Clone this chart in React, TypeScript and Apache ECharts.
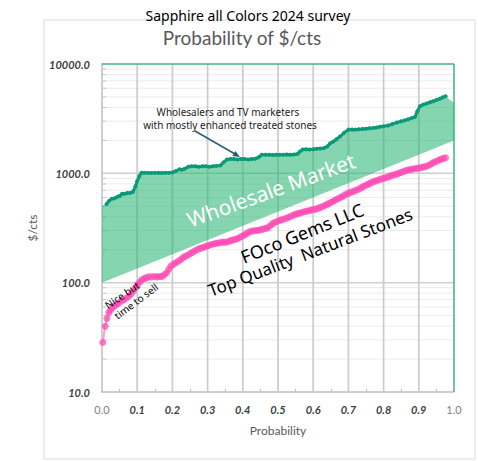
import React, { useEffect, useRef } from "react";
import * as echarts from "echarts";

// ---- data ----
const X_TICK_INTERVAL = 0.1;
const Y_MIN = 10;
const Y_MAX = 10000;

// Wholesalers & TV marketers (probability, $/ct)
const wholesaleData: [number, number][] = [
  [0.013, 525], [0.02, 560], [0.028, 585], [0.035, 590], [0.044, 610], [0.05, 620],
  [0.057, 650], [0.065, 650], [0.072, 660], [0.08, 660], [0.088, 680], [0.095, 760],
  [0.1, 850], [0.106, 940], [0.112, 1010], [0.12, 1010], [0.13, 1010], [0.14, 1005],
  [0.15, 1010], [0.16, 1010], [0.17, 1005], [0.18, 1010], [0.19, 1010], [0.2, 1020],
  [0.21, 1050], [0.22, 1090], [0.227, 1080], [0.235, 1100], [0.245, 1150], [0.254, 1160],
  [0.265, 1160], [0.275, 1150], [0.285, 1160], [0.295, 1160], [0.305, 1150], [0.315, 1160],
  [0.325, 1170], [0.336, 1180], [0.345, 1260], [0.355, 1340], [0.365, 1350], [0.375, 1350],
  [0.385, 1340], [0.395, 1350], [0.405, 1350], [0.415, 1340], [0.425, 1350], [0.435, 1360],
  [0.445, 1400], [0.454, 1480], [0.465, 1480], [0.475, 1480], [0.485, 1470], [0.495, 1480],
  [0.505, 1480], [0.515, 1480], [0.525, 1490], [0.535, 1480], [0.545, 1490], [0.555, 1500],
  [0.562, 1580], [0.57, 1650], [0.58, 1660], [0.59, 1650], [0.6, 1660], [0.61, 1680],
  [0.62, 1690], [0.63, 1700], [0.64, 1760], [0.648, 1880], [0.657, 1950], [0.666, 2050],
  [0.676, 2170], [0.688, 2350], [0.7, 2510], [0.71, 2520], [0.72, 2510], [0.73, 2530],
  [0.74, 2540], [0.75, 2560], [0.76, 2580], [0.771, 2600], [0.78, 2620], [0.79, 2670],
  [0.8, 2700], [0.813, 2740], [0.825, 2820], [0.838, 2920], [0.85, 2990], [0.86, 3050],
  [0.87, 3120], [0.88, 3200], [0.889, 3280], [0.896, 3700], [0.903, 4100], [0.912, 4250],
  [0.922, 4350], [0.932, 4470], [0.941, 4560], [0.951, 4700], [0.96, 4820], [0.968, 4950],
  [0.976, 5080],
];

// FOco Gems LLC (probability, $/ct)
const focoData: [number, number][] = [
  [0.002, 28.4], [0.009, 40], [0.014, 47], [0.019, 53], [0.024, 56], [0.028, 59],
  [0.035, 61], [0.041, 63], [0.047, 65], [0.055, 68], [0.062, 70], [0.069, 72],
  [0.076, 75], [0.083, 79], [0.089, 84], [0.095, 90], [0.101, 96], [0.107, 101],
  [0.113, 106], [0.12, 109], [0.126, 111], [0.132, 113], [0.14, 113], [0.148, 114],
  [0.156, 113], [0.163, 114], [0.17, 114], [0.177, 118], [0.184, 123], [0.19, 133],
  [0.196, 142], [0.203, 147], [0.21, 152], [0.217, 157], [0.224, 163], [0.23, 169],
  [0.236, 174], [0.243, 178], [0.25, 184], [0.256, 189], [0.263, 195], [0.27, 200],
  [0.277, 205], [0.283, 208], [0.29, 212], [0.297, 216], [0.303, 219], [0.31, 223],
  [0.317, 226], [0.324, 229], [0.33, 231], [0.337, 233], [0.344, 235], [0.35, 234],
  [0.357, 237], [0.364, 241], [0.37, 245], [0.377, 248], [0.384, 252], [0.39, 258],
  [0.397, 265], [0.404, 272], [0.41, 280], [0.417, 290], [0.424, 295], [0.43, 298],
  [0.437, 300], [0.444, 302], [0.45, 305], [0.457, 309], [0.464, 313], [0.47, 317],
  [0.477, 330], [0.484, 345], [0.49, 355], [0.497, 363], [0.504, 370], [0.51, 376],
  [0.517, 382], [0.524, 389], [0.53, 396], [0.537, 405], [0.544, 415], [0.55, 423],
  [0.557, 430], [0.563, 434], [0.57, 440], [0.577, 447], [0.583, 452], [0.59, 458],
  [0.597, 464], [0.603, 468], [0.61, 475], [0.617, 483], [0.623, 492], [0.63, 502],
  [0.637, 515], [0.643, 528], [0.65, 540], [0.657, 555], [0.663, 570], [0.67, 585],
  [0.676, 598], [0.683, 615], [0.69, 635], [0.697, 650], [0.703, 663], [0.71, 677],
  [0.717, 690], [0.723, 705], [0.73, 720], [0.737, 740], [0.743, 760], [0.75, 780],
  [0.757, 800], [0.763, 818], [0.77, 835], [0.777, 850], [0.783, 865], [0.79, 880],
  [0.797, 895], [0.803, 905], [0.81, 920], [0.817, 938], [0.823, 955], [0.83, 970],
  [0.837, 985], [0.843, 1000], [0.85, 1020], [0.857, 1040], [0.863, 1060], [0.87, 1075],
  [0.877, 1085], [0.883, 1095], [0.89, 1105], [0.897, 1115], [0.903, 1125], [0.91, 1140],
  [0.917, 1150], [0.923, 1165], [0.93, 1190], [0.937, 1230], [0.943, 1265], [0.95, 1290],
  [0.957, 1320], [0.963, 1345], [0.97, 1370], [0.976, 1390],
];

// Wholesale market band: upper edge ends, lower straight edge
const bandUpperStart: [number, number] = [0, 509];
const bandUpperEnd: [number, number] = [1, 4400];
const bandLower: [number, number][] = [[1, 2000], [0, 100]];

// major grid values
const xMajorValues: number[] = [0.1, 0.2, 0.3, 0.4, 0.5, 0.6, 0.7, 0.8, 0.9];
const yMajorValues: number[] = [100, 1000];
// minor log grid lines (2..9 per decade)
const minorValues: number[] = [
  20, 30, 40, 50, 60, 70, 80, 90,
  200, 300, 400, 500, 600, 700, 800, 900,
  2000, 3000, 4000, 5000, 6000, 7000, 8000, 9000,
];

const FONT = "'Noto Sans', 'Open Sans', sans-serif";
const AXFONT = "Lato, 'Noto Sans', sans-serif";

export default function App() {
  const ref = useRef<HTMLDivElement>(null);

  useEffect(() => {
    if (!ref.current) return;
    const chart = echarts.init(ref.current, undefined, { renderer: "svg" });

    const bandPts: [number, number][] = [bandUpperStart, ...wholesaleData, bandUpperEnd, ...bandLower];

    const arrowTip = [240, 157];
    const gridItems: any[] = [
      ...minorValues.map((v) => ["ymin", v]),
      ...yMajorValues.map((v) => ["ymaj", v]),
      ...xMajorValues.map((v) => ["xmaj", v]),
      ["top", 0],
      ["right", 0],
    ];

    const option: any = {
      animation: false,
      backgroundColor: "#ffffff",
      grid: { left: 102, right: 24, top: 64, bottom: 69 },
      xAxis: {
        type: "value",
        min: 0,
        max: 1,
        interval: X_TICK_INTERVAL,
        name: "Probability",
        nameLocation: "middle",
        nameGap: 32,
        nameTextStyle: { color: "#595959", fontSize: 12, fontFamily: AXFONT },
        axisLine: { show: true, lineStyle: { color: "#bfbfbf", width: 1.5 } },
        axisTick: { show: true, inside: true, length: 0 },
        minorTick: { show: true, splitNumber: 2, length: 3, lineStyle: { color: "#bfbfbf" } },
        splitLine: { show: false },
        axisLabel: {
          margin: 12,
          fontSize: 11,
          fontFamily: AXFONT,
          color: "#404040",
          fontWeight: "bold",
          fontStyle: "italic",
          formatter: (v: number) => {
            const s = v.toFixed(1);
            return v < 0.05 || v > 0.95 ? "{e|" + s + "}" : s;
          },
          rich: {
            e: { fontSize: 11, fontFamily: AXFONT, color: "#7f7f7f", fontWeight: "normal", fontStyle: "normal" },
          },
        },
      },
      yAxis: {
        type: "log",
        logBase: 10,
        min: Y_MIN,
        max: Y_MAX,
        name: "$/cts",
        nameLocation: "middle",
        nameGap: 62,
        nameTextStyle: { color: "#595959", fontSize: 12, fontFamily: AXFONT },
        axisLine: { show: true, lineStyle: { color: "#bfbfbf", width: 1.5 } },
        axisTick: { show: false },
        splitLine: { show: false },
        axisLabel: {
          margin: 12,
          fontSize: 11,
          fontFamily: AXFONT,
          color: "#404040",
          fontWeight: "bold",
          fontStyle: "italic",
          formatter: (v: number) => v.toFixed(1),
        },
      },
      series: [
        {
          type: "custom",
          name: "grid lines",
          coordinateSystem: "cartesian2d",
          z: 1,
          silent: true,
          clip: false,
          data: gridItems.map((_, i) => [0, 100, i]),
          renderItem: (params: any, api: any) => {
            const [kind, v] = gridItems[params.dataIndex];
            if (kind === "ymin" || kind === "ymaj") {
              const a = api.coord([0, v]);
              const b = api.coord([1, v]);
              const major = kind === "ymaj";
              return {
                type: "group",
                children: [
                  { type: "line", shape: { x1: a[0], y1: a[1], x2: b[0], y2: b[1] }, style: { stroke: major ? "#cfcfcf" : "#ebebeb", lineWidth: major ? 1.5 : 1 } },
                  { type: "line", shape: { x1: a[0], y1: a[1], x2: a[0] + (major ? 0 : 4), y2: a[1] }, style: { stroke: "#c4c4c4", lineWidth: 1 } },
                ],
              };
            }
            if (kind === "xmaj") {
              const a = api.coord([v, Y_MIN]);
              const b = api.coord([v, Y_MAX]);
              return { type: "line", shape: { x1: a[0], y1: a[1], x2: b[0], y2: b[1] }, style: { stroke: "#cccccc", lineWidth: 1.75 } };
            }
            if (kind === "top") {
              const a = api.coord([0, Y_MAX]);
              const b = api.coord([1, Y_MAX]);
              return { type: "line", shape: { x1: a[0], y1: a[1], x2: b[0], y2: b[1] }, style: { stroke: "#3DB67E", lineWidth: 1.5 } };
            }
            const a = api.coord([1, Y_MIN]);
            const b = api.coord([1, Y_MAX]);
            return { type: "line", shape: { x1: a[0], y1: a[1], x2: b[0], y2: b[1] }, style: { stroke: "#3DB67E", lineWidth: 1.5 } };
          },
        },
        {
          type: "custom",
          name: "Wholesale Market",
          coordinateSystem: "cartesian2d",
          z: 2,
          silent: true,
          data: [[0, 100]],
          renderItem: (params: any, api: any) => {
            const pts = bandPts.map((p) => api.coord(p));
            return {
              type: "polygon",
              shape: { points: pts },
              style: { fill: "rgba(33,180,111,0.55)", stroke: "none" },
            };
          },
        },
        {
          type: "line",
          name: "Wholesalers and TV marketers",
          z: 3,
          data: wholesaleData,
          symbol: "circle",
          symbolSize: 4,
          itemStyle: { color: "#0B9A78" },
          lineStyle: { color: "#0B9A78", width: 3 },
        },
        {
          type: "line",
          name: "FOco Gems LLC",
          z: 4,
          data: focoData,
          symbol: "circle",
          symbolSize: 7,
          itemStyle: { color: "#FF4DB5", opacity: 0.75 },
          lineStyle: { color: "#FF9AD2", width: 2 },
        },
      ],
      graphic: [
        { type: "rect", shape: { x: 44, y: 20, width: 431, height: 439 }, style: { fill: "none", stroke: "#d9d9d9", lineWidth: 1 }, z: -1 },
        { type: "text", x: 248, y: 15, style: { text: "Sapphire all Colors 2024 survey", fill: "#000", font: `14px ${FONT}`, textAlign: "center", textVerticalAlign: "middle" }, z: 10 },
        { type: "text", x: 242, y: 37, style: { text: "Probability of $/cts", fill: "#595959", font: `19px ${AXFONT}`, textAlign: "center", textVerticalAlign: "middle" }, z: 10 },
        { type: "text", x: 228, y: 112, style: { text: "Wholesalers and TV marketers", fill: "#222", font: `10px ${FONT}`, textAlign: "center", textVerticalAlign: "middle" }, z: 10 },
        { type: "text", x: 230, y: 125, style: { text: "with mostly enhanced treated stones", fill: "#222", font: `10px ${FONT}`, textAlign: "center", textVerticalAlign: "middle" }, z: 10 },
        { type: "line", shape: { x1: 195, y1: 131, x2: 235, y2: 154 }, style: { stroke: "#245F78", lineWidth: 1.5 }, z: 10 },
        { type: "polygon", shape: { points: [arrowTip, [232.4, 156.1], [235.4, 150.9]] }, style: { fill: "#245F78" }, z: 10 },
        { type: "text", x: 271, y: 190, rotation: (20 * Math.PI) / 180, style: { text: "Wholesale Market", fill: "#ffffff", font: `21px ${FONT}`, textAlign: "center", textVerticalAlign: "middle" }, z: 10 },
        { type: "text", x: 302, y: 233, rotation: (22 * Math.PI) / 180, style: { text: "FOco Gems LLC", fill: "#000", font: `18px ${FONT}`, textAlign: "center", textVerticalAlign: "middle" }, z: 10 },
        { type: "text", x: 310, y: 252, rotation: (21 * Math.PI) / 180, style: { text: "Top Quality  Natural Stones", fill: "#000", font: `17px ${FONT}`, textAlign: "center", textVerticalAlign: "middle" }, z: 10 },
        { type: "text", x: 122, y: 295, rotation: (34 * Math.PI) / 180, style: { text: "Nice but", fill: "#000", font: `10px ${FONT}`, textAlign: "center", textVerticalAlign: "middle" }, z: 10 },
        { type: "text", x: 136, y: 301, rotation: (37 * Math.PI) / 180, style: { text: "time to sell", fill: "#000", font: `10px ${FONT}`, textAlign: "center", textVerticalAlign: "middle" }, z: 10 },
      ],
    };
    chart.setOption(option);
    return () => chart.dispose();
  }, []);

  return <div ref={ref} style={{ position: "fixed", left: 0, top: 0, width: 478, height: 461 }} />;
}
